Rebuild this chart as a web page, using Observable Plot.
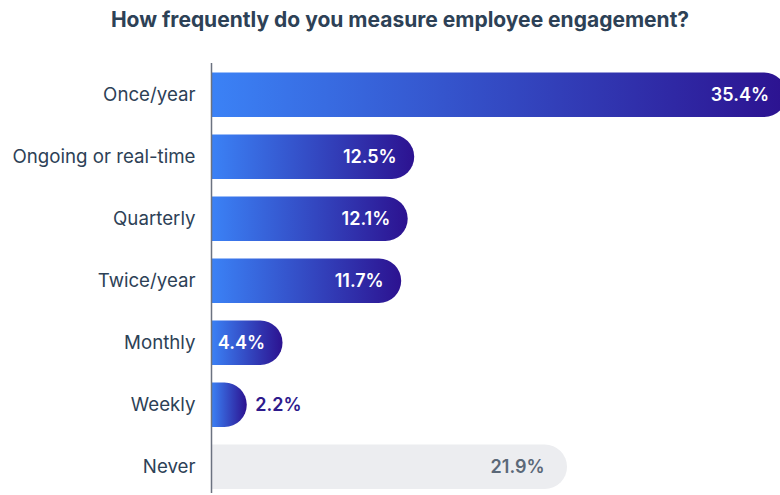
<!DOCTYPE html>
<html>
<head>
<meta charset="utf-8">
<script src="https://cdn.jsdelivr.net/npm/d3@7"></script>
<script src="https://cdn.jsdelivr.net/npm/@observablehq/plot@0.6"></script>
<style>
  html, body { margin: 0; padding: 0; background: #ffffff; }
  #wrap { position: relative; width: 780px; height: 495px; overflow: hidden; font-family: Inter, "Noto Sans", sans-serif; }
  #title { position: absolute; top: 6px; left: 20px; width: 760px; text-align: center; font-size: 21px; font-weight: 700; color: #2d4156; line-height: 28px; }
  #chart { position: absolute; top: 40px; left: 0; }
</style>
</head>
<body>
<div id="wrap">
  <div id="title">How frequently do you measure employee engagement?</div>
  <div id="chart"></div>
</div>
<script>
const categories = ["Once/year", "Ongoing or real-time", "Quarterly", "Twice/year", "Monthly", "Weekly", "Never"];
const values = [35.4, 12.5, 12.1, 11.7, 4.4, 2.2, 21.9];
const labels = ["35.4%", "12.5%", "12.1%", "11.7%", "4.4%", "2.2%", "21.9%"];
const neverCategory = "Never";

const data = categories.map((c, i) => ({category: c, value: values[i], label: labels[i]}));
const active = data.filter(d => d.category !== neverCategory);
const never = data.filter(d => d.category === neverCategory);
const inside = active.filter(d => d.value > 3);
const outside = active.filter(d => d.value <= 3);

const chart = Plot.plot({
  width: 780,
  height: 455,
  marginLeft: 211,
  marginRight: 0,
  marginTop: 23,
  marginBottom: 2,
  style: {fontFamily: "Inter, 'Noto Sans', sans-serif", background: "transparent", overflow: "visible"},
  x: {domain: [0, 35], axis: null},
  y: {domain: categories, paddingInner: 0.282, paddingOuter: 0.109, align: 0.7, round: false, label: null},
  marks: [
    Plot.barX(active, {x: "value", y: "category", fill: "#3b82f6"}),
    Plot.barX(never, {x: "value", y: "category", fill: "#ecedf0"}),
    Plot.text(inside, {x: "value", y: "category", text: "label", textAnchor: "end", dx: -18, fill: "#ffffff", fontSize: 18, fontWeight: 600}),
    Plot.text(outside, {x: "value", y: "category", text: "label", textAnchor: "start", dx: 8, fill: "#2e1a8c", fontSize: 18, fontWeight: 600}),
    Plot.text(never, {x: "value", y: "category", text: "label", textAnchor: "end", dx: -23, fill: "#5b6878", fontSize: 18, fontWeight: 600}),
    Plot.axisY({tickSize: 0, tickPadding: 16, fontSize: 18.7, fill: "#2d4156", label: null}),
    Plot.ruleX([0], {stroke: "#6b7280", strokeWidth: 1.5})
  ]
});

// gradient definition
const svg = d3.select(chart);
const defs = svg.insert("defs", ":first-child");
const grad = defs.append("linearGradient").attr("id", "barGrad").attr("x1", "0").attr("x2", "1").attr("y1", "0").attr("y2", "0");
grad.append("stop").attr("offset", "0%").attr("stop-color", "#3b82f6");
grad.append("stop").attr("offset", "100%").attr("stop-color", "#2c1290");

// convert bar rects to paths with a flat left side and round right end
svg.selectAll("g[aria-label='bar']").each(function(_, gi) {
  d3.select(this).selectAll("rect").each(function() {
    const r = d3.select(this);
    const x = +r.attr("x"), y = +r.attr("y"), w = +r.attr("width"), h = +r.attr("height");
    const fill = r.attr("fill");
    const rx = Math.min(h / 2, w);
    const d = `M${x},${y}H${x + w - rx}A${rx},${h / 2} 0 0 1 ${x + w},${y + h / 2}A${rx},${h / 2} 0 0 1 ${x + w - rx},${y + h}H${x}Z`;
    d3.select(this.parentNode).insert("path", () => this)
      .attr("d", d)
      .attr("fill", gi === 0 ? "url(#barGrad)" : fill);
    r.remove();
  });
});

document.getElementById("chart").appendChild(chart);
</script>
</body>
</html>
